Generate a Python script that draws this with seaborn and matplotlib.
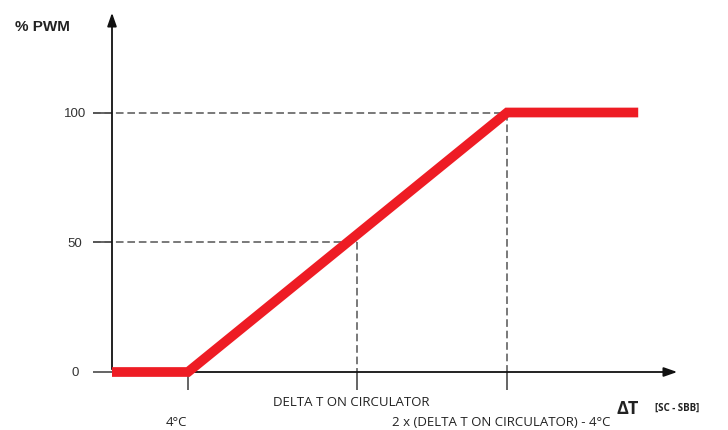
import matplotlib
matplotlib.use("Agg")
import matplotlib.pyplot as plt
import seaborn as sns
import pandas as pd

# Data (x in arbitrary ΔT units, y in % PWM)
curve_x = [0.0, 4.0, 20.8, 27.7]
curve_y = [0, 0, 100, 100]
y_ticks = [0, 50, 100]
y_tick_labels = ["0", "50", "100"]
delta_on = 12.9          # DELTA T ON CIRCULATOR
x_full = 20.8            # 2 x (DELTA T ON CIRCULATOR) - 4°C
x_start = 4.0            # 4°C
x_labels = ["4°C", "DELTA T ON CIRCULATOR", "2 x (DELTA T ON CIRCULATOR) - 4°C"]

sns.set_style("white")
plt.rcParams['font.family'] = ['Liberation Sans', 'DejaVu Sans']

fig = plt.figure(figsize=(7.28, 4.30), dpi=100)
ax = fig.add_axes([112/728, (430-372)/430, (680-112)/728, (372-10)/430])
ax.set_xlim(0, 29.9)
ax.set_ylim(0, 139.5)

for s in ax.spines.values():
    s.set_visible(False)

axis_col = "#3a3a3a"
dash_col = "#555555"

# dashed guide lines
ax.plot([-1.0, x_full], [100, 100], ls=(0, (5, 2.5)), color=dash_col, lw=1.1, clip_on=False)
ax.plot([-1.0, delta_on], [50, 50], ls=(0, (5, 2.5)), color=dash_col, lw=1.1, clip_on=False)
ax.plot([delta_on, delta_on], [50, 0], ls=(0, (5, 2.5)), color=dash_col, lw=1.1, clip_on=False)
ax.plot([x_full, x_full], [100, 0], ls=(0, (5, 2.5)), color=dash_col, lw=1.1, clip_on=False)

# axes with arrows
ax.annotate("", xy=(0, 1.0), xytext=(0, 0), xycoords="axes fraction",
            arrowprops=dict(arrowstyle="-|>,head_length=0.8,head_width=0.28", color="#111111", lw=1.3))
ax.annotate("", xy=(1.0, 0), xytext=(0, 0), xycoords="axes fraction",
            arrowprops=dict(arrowstyle="-|>,head_length=0.8,head_width=0.28", color="#111111", lw=1.3))

# ticks
ax.set_yticks(y_ticks)
ax.set_yticklabels(y_tick_labels)
ax.tick_params(axis="y", direction="out", length=14, width=1.1, color=axis_col,
               left=True, pad=4, labelsize=9.5, labelcolor="#333333")
for lab in ax.get_yticklabels():
    lab.set_horizontalalignment("center")
    lab.set_x(-0.021)
ax.set_xticks([x_start, delta_on, x_full])
ax.set_xticklabels(["", "", ""])
ax.tick_params(axis="x", direction="out", length=13, width=1.1, color=axis_col, bottom=True)

# red curve
df = pd.DataFrame({"dT": curve_x, "pwm": curve_y})
sns.lineplot(data=df, x="dT", y="pwm", ax=ax, color="#ee1c24", linewidth=7,
             solid_capstyle="butt", solid_joinstyle="miter", clip_on=False, zorder=5)
ax.set_xlabel("")
ax.set_ylabel("")

# labels
fig.text(15/728, 1 - 27/430, "% PWM", fontsize=11, fontweight="bold", color="#222222",
         va="center", ha="left")
lab_font = ['Open Sans', 'DejaVu Sans']
tr = ax.get_xaxis_transform()
ax.text(x_start - 0.6, -0.14, x_labels[0], transform=tr, ha="center", va="center",
        fontsize=9.5, family=lab_font, color="#222222")
ax.text(delta_on - 0.3, -0.083, x_labels[1], transform=tr, ha="center", va="center",
        fontsize=9.5, family=lab_font, color="#222222")
ax.text(x_full - 0.3, -0.14, x_labels[2], transform=tr, ha="center", va="center",
        fontsize=9.5, family=lab_font, color="#222222")
fig.text(628/728, 1 - 409/430, "ΔT", fontsize=13, fontweight="bold", color="#222222",
         ha="center", va="center", family=lab_font)
fig.text(677/728, 1 - 408/430, "[SC - SBB]", fontsize=7, fontweight="bold", color="#222222",
         ha="center", va="center", family=lab_font)

fig.savefig("out.png", dpi=100)
